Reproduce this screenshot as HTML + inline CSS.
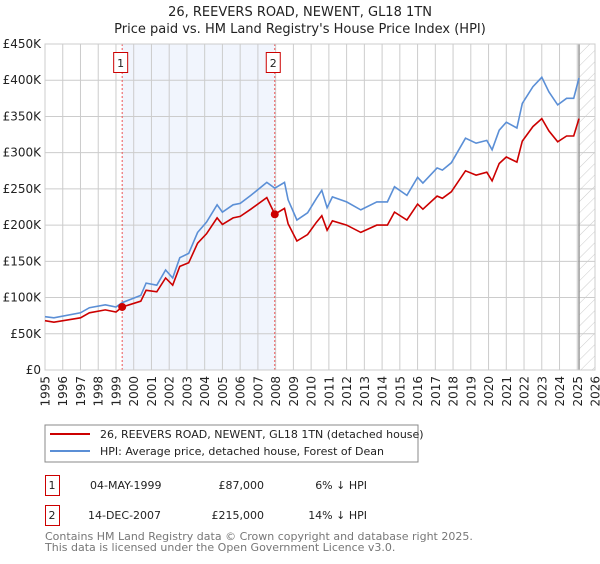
<!DOCTYPE html>
<html><head><meta charset="utf-8"><style>
body{margin:0;background:#fff;font-family:"DejaVu Sans","Liberation Sans",sans-serif;}
svg text{font-family:"DejaVu Sans","Liberation Sans",sans-serif;}
</style></head><body>
<svg id="chart" width="600" height="560" xmlns="http://www.w3.org/2000/svg">
<defs><pattern id="hatch" width="8" height="8" patternUnits="userSpaceOnUse" patternTransform="rotate(45)"><line x1="0" y1="0" x2="0" y2="8" stroke="#ccc" stroke-width="1"/></pattern></defs>
<text x="300" y="16" text-anchor="middle" font-size="13" fill="#222">26, REEVERS ROAD, NEWENT, GL18 1TN</text>
<text x="300" y="33" text-anchor="middle" font-size="13" fill="#222">Price paid vs. HM Land Registry's House Price Index (HPI)</text>
<g id="plot"></g>
<g>
<rect x="45" y="425" width="373" height="37" fill="#fff" stroke="#888"/>
<line x1="50" y1="434" x2="90" y2="434" stroke="#cc0000" stroke-width="2"/>
<text x="100" y="438" font-size="11" fill="#222">26, REEVERS ROAD, NEWENT, GL18 1TN (detached house)</text>
<line x1="50" y1="451" x2="90" y2="451" stroke="#5b8fd6" stroke-width="2"/>
<text x="100" y="455" font-size="11" fill="#222">HPI: Average price, detached house, Forest of Dean</text>
</g>
<g font-size="11" fill="#222">
<rect x="45.5" y="475.5" width="14" height="20" fill="none" stroke="#cc0000"/>
<text x="52" y="489" text-anchor="middle">1</text>
<text x="90" y="489">04-MAY-1999</text>
<text x="264" y="489" text-anchor="end">£87,000</text>
<text x="367" y="489" text-anchor="end">6% ↓ HPI</text>
<rect x="45.5" y="505.5" width="14" height="20" fill="none" stroke="#cc0000"/>
<text x="52" y="519" text-anchor="middle">2</text>
<text x="88" y="519">14-DEC-2007</text>
<text x="264" y="519" text-anchor="end">£215,000</text>
<text x="367" y="519" text-anchor="end">14% ↓ HPI</text>
</g>
<text x="45" y="540" font-size="11" fill="#777">Contains HM Land Registry data © Crown copyright and database right 2025.</text>
<text x="45" y="551" font-size="11" fill="#777">This data is licensed under the Open Government Licence v3.0.</text>
</svg>
<script>
const years=[1995,1995.5,1997,1997.5,1998.4,1999,1999.35,2000.4,2000.7,2001.3,2001.8,2002.2,2002.6,2003.1,2003.6,2004.1,2004.7,2005,2005.6,2006,2006.6,2007.5,2007.95,2008.5,2008.7,2009.2,2009.8,2010.3,2010.6,2010.9,2011.2,2012,2012.8,2013.7,2014.3,2014.7,2015.4,2016,2016.3,2017.1,2017.4,2017.9,2018.7,2019.3,2019.9,2020.2,2020.6,2021,2021.6,2021.9,2022.5,2023,2023.4,2023.9,2024.4,2024.8,2025.1];
const hpiValues=[73.6,72,79,86,90,87,93,103,120,117,138,127,155,161,190,204,228,218,228,230,241,259,251,259,235,207,217,237,248,224,239,232,221,232,232,253,241,266,258,279,276,286,320,313,317,304,331,342,334,368,391,404,384,366,375,375,403];
const priceValues=[68,66,72,79,83,80,87,95,110,108,127,117,143,148,175,188,210,201,210,212,222,238,215,223,202,178,187,204,213,193,206,200,190,200,200,218,207,229,222,240,237,246,275,269,273,261,285,294,287,316,336,347,330,315,323,323,347];
const yTicks=[0,50,100,150,200,250,300,350,400,450];
const yTickLabels=["£0","£50K","£100K","£150K","£200K","£250K","£300K","£350K","£400K","£450K"];
const xTicks=[1995,1996,1997,1998,1999,2000,2001,2002,2003,2004,2005,2006,2007,2008,2009,2010,2011,2012,2013,2014,2015,2016,2017,2018,2019,2020,2021,2022,2023,2024,2025,2026];
const saleYears=[1999.35,2007.95];
const saleValues=[87,215];
const X0=45,X1=595,Y0=370,Y1=44;
const xs=y=>X0+(y-1995)/(2026-1995)*(X1-X0);
const ys=v=>Y0-v/450*(Y0-Y1);
const NS="http://www.w3.org/2000/svg";
const g=document.getElementById('plot');
function mk(t,a,p){const e=document.createElementNS(NS,t);for(const k in a)e.setAttribute(k,a[k]);(p||g).appendChild(e);return e;}
let e=mk('rect',{x:xs(saleYears[0]),y:Y1,width:xs(saleYears[1])-xs(saleYears[0]),height:Y0-Y1,fill:'#eef3fc',opacity:0.8});


e=mk('rect',{x:xs(2025.1),y:Y1,width:X1-xs(2025.1),height:Y0-Y1,fill:'url(#hatch)'});


yTicks.forEach((v,i)=>{
 let l=mk('line',{x1:X0,x2:X1,y1:ys(v),y2:ys(v),stroke:'#ccc'});
 
 
 let t=mk('text',{x:X0-4,y:ys(v)+4,'text-anchor':'end','font-size':12,fill:'#222'});
 t.textContent=yTickLabels[i];
 
 
});
xTicks.forEach(v=>{
 let l=mk('line',{x1:xs(v),x2:xs(v),y1:Y1,y2:Y0,stroke:'#ccc'});
 
 
 const tx=xs(v)+4.5, ty=376;
 let t=mk('text',{x:tx,y:ty,'text-anchor':'end','font-size':12,fill:'#222',transform:'rotate(-90 '+tx+' '+ty+')'});
 t.textContent=v;
 
 
});
e=mk('line',{x1:xs(2025.1),x2:xs(2025.1),y1:Y1,y2:Y0,stroke:'#999','stroke-width':1.5});


saleYears.forEach((s,i)=>{
 let l=mk('line',{x1:xs(s),x2:xs(s),y1:Y1,y2:Y0,stroke:'#ee5555','stroke-dasharray':'2,2'});
 
 
 let r=mk('rect',{x:xs(s)-8.5,y:52.5,width:14,height:20,fill:'#fff',stroke:'#cc0000'});
 
 
 let t=mk('text',{x:xs(s)-1.5,y:67,'text-anchor':'middle','font-size':11,fill:'#222'});
 t.textContent=String(i+1);
 
 
});
e=mk('rect',{x:X0,y:Y1,width:X1-X0,height:Y0-Y1,fill:'none',stroke:'#ccc'});
function path(vals){return vals.map((v,i)=>(i?'L':'M')+xs(years[i]).toFixed(1)+','+ys(v).toFixed(1)).join('');}
e=mk('path',{d:path(hpiValues),fill:'none',stroke:'#5b8fd6','stroke-width':1.6});


e=mk('path',{d:path(priceValues),fill:'none',stroke:'#cc0000','stroke-width':1.6});


saleYears.forEach((s,i)=>{
 let c=mk('circle',{cx:xs(s),cy:ys(saleValues[i]),r:4,fill:'#cc0000'});
 
 
});
</script>
</body></html>
